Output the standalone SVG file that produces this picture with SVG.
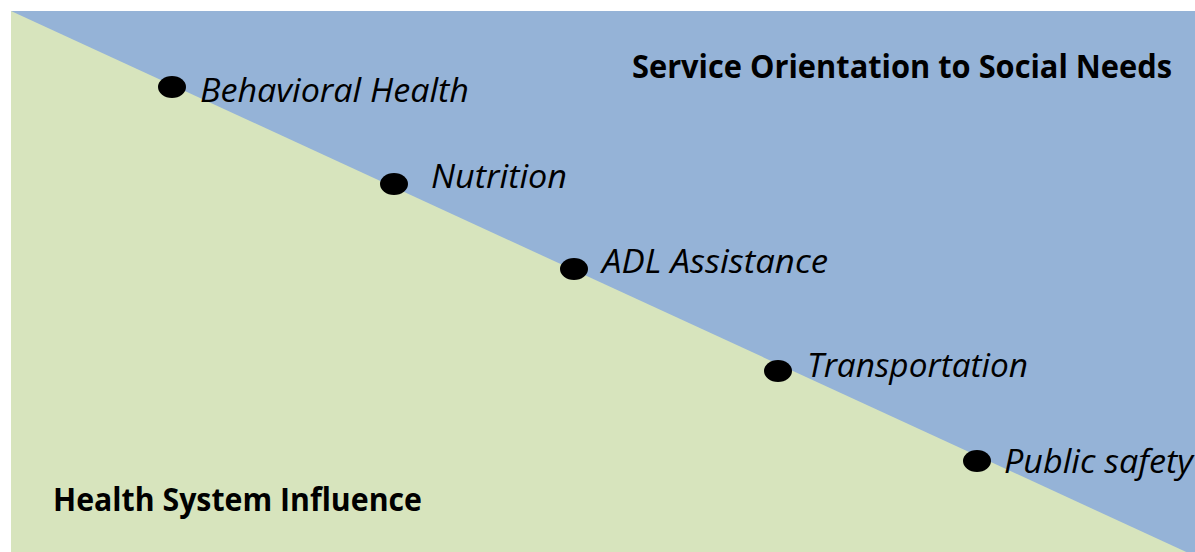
<svg xmlns="http://www.w3.org/2000/svg" width="1195" height="552" viewBox="0 0 1195 552">
  <style>
    .lbl { font-family: "Open Sans", "Noto Sans", "Liberation Sans", sans-serif; font-style: italic; font-size: 33px; fill: #000; }
    .ttl { font-family: "Open Sans", "Noto Sans", "Liberation Sans", sans-serif; font-weight: bold; font-size: 33px; fill: #000; }
    .dot { fill: #000; }
  </style>
  <!-- background panels -->
  <rect x="0" y="0" width="1195" height="552" fill="#ffffff"/>
  <rect x="11" y="11" width="1184" height="541" fill="#95b3d7"/>
  <polygon points="11,11 1195,556 11,556" fill="#d7e4bd"/>

  <text class="ttl" x="632" y="78" textLength="540" lengthAdjust="spacingAndGlyphs">Service Orientation to Social Needs</text>
  <text class="ttl" x="53" y="511" textLength="369" lengthAdjust="spacingAndGlyphs">Health System Influence</text>

  <g id="behavioral-health">
    <ellipse class="dot" cx="172" cy="87" rx="14" ry="11"/>
    <text class="lbl" x="200" y="102" textLength="269" lengthAdjust="spacingAndGlyphs">Behavioral Health</text>
  </g>
  <g id="nutrition">
    <ellipse class="dot" cx="394" cy="184" rx="14" ry="11"/>
    <text class="lbl" x="431" y="188" textLength="136" lengthAdjust="spacingAndGlyphs">Nutrition</text>
  </g>
  <g id="adl-assistance">
    <ellipse class="dot" cx="574" cy="269" rx="14" ry="11"/>
    <text class="lbl" x="602" y="273" textLength="226" lengthAdjust="spacingAndGlyphs">ADL Assistance</text>
  </g>
  <g id="transportation">
    <ellipse class="dot" cx="778" cy="371" rx="14" ry="11"/>
    <text class="lbl" x="807" y="377" textLength="221" lengthAdjust="spacingAndGlyphs">Transportation</text>
  </g>
  <g id="public-safety">
    <ellipse class="dot" cx="977" cy="461" rx="14" ry="11"/>
    <text class="lbl" x="1004" y="473" textLength="189" lengthAdjust="spacingAndGlyphs">Public safety</text>
  </g>
</svg>
